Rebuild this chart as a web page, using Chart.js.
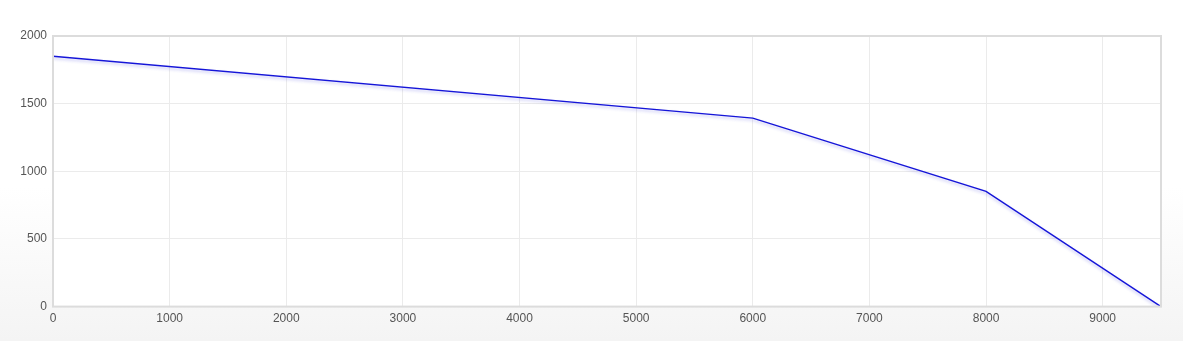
<!DOCTYPE html>
<html>
<head>
<meta charset="utf-8">
<script src="https://cdn.jsdelivr.net/npm/chart.js@4"></script>
<style>
  html, body { margin: 0; padding: 0; }
  body { width: 1183px; height: 341px; background: linear-gradient(#ffffff 0%, #ffffff 55%, #f4f4f4 100%); }
  #wrap { position: relative; width: 1183px; height: 341px; }
</style>
</head>
<body>
<div id="wrap"><canvas id="c"></canvas></div>
<script>
const xValues = [0, 6000, 8000, 9500]
const yValues = [1850, 1393, 852, 0]
const xTicks = [0, 1000, 2000, 3000, 4000, 5000, 6000, 7000, 8000, 9000]
const yTicks = [0, 500, 1000, 1500, 2000]

const plotFrame = {
  id: 'plotFrame',
  beforeDraw (chart) {
    const { ctx, chartArea: a } = chart
    ctx.save()
    ctx.fillStyle = '#ffffff'
    ctx.fillRect(a.left, a.top, a.right - a.left, a.bottom - a.top)
    ctx.restore()
  },
  afterDatasetsDraw (chart) {
    const { ctx, chartArea: a } = chart
    ctx.save()
    ctx.strokeStyle = '#dcdcdc'
    ctx.lineWidth = 2
    ctx.strokeRect(a.left, a.top, a.right - a.left, a.bottom - a.top)
    ctx.restore()
  }
}

const lineShadow = {
  id: 'lineShadow',
  beforeDatasetDraw (chart) {
    const ctx = chart.ctx
    ctx.save()
    ctx.shadowColor = 'rgba(60, 60, 220, 0.3)'
    ctx.shadowBlur = 3
    ctx.shadowOffsetY = 2
  },
  afterDatasetDraw (chart) {
    chart.ctx.restore()
  }
}

Chart.defaults.font.family = '"Liberation Sans", Arial, sans-serif'
Chart.defaults.font.size = 12
Chart.defaults.color = '#555'

new Chart(document.getElementById('c'), {
  type: 'line',
  data: {
    datasets: [{
      data: xValues.map((x, i) => ({ x, y: yValues[i] })),
      borderColor: '#1515d8',
      borderWidth: 1.5,
      pointRadius: 0,
      fill: false,
      tension: 0
    }]
  },
  options: {
    responsive: true,
    maintainAspectRatio: false,
    animation: false,
    layout: { padding: { top: 36, right: 22, left: 0, bottom: 10 } },
    plugins: { legend: { display: false }, tooltip: { enabled: false } },
    scales: {
      x: {
        type: 'linear',
        min: 0,
        max: 9500,
        afterBuildTicks: (s) => { s.ticks = xTicks.map(v => ({ value: v })) },
        ticks: { padding: 5, maxRotation: 0, callback: (v) => String(v) },
        grid: { color: '#ebebeb', drawTicks: false },
        border: { display: false }
      },
      y: {
        min: 0,
        max: 2000,
        afterBuildTicks: (s) => { s.ticks = yTicks.map(v => ({ value: v })) },
        afterFit: (s) => { s.width = 53 },
        ticks: { padding: 6, callback: (v) => String(v) },
        grid: { color: '#ebebeb', drawTicks: false },
        border: { display: false }
      }
    }
  },
  plugins: [plotFrame, lineShadow]
})
</script>
</body>
</html>
